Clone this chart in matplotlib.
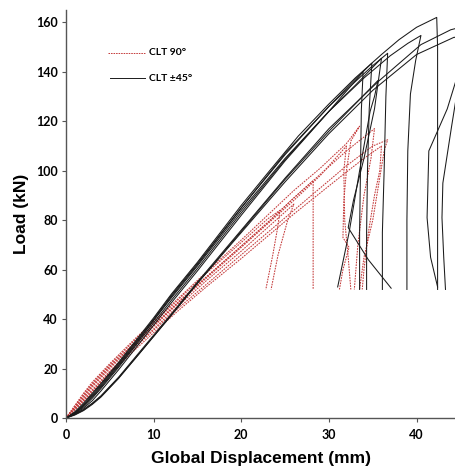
import matplotlib
matplotlib.use("Agg")
import matplotlib.pyplot as plt

# CLT +-45 (solid black) curves
b1_x = [0, 1, 2, 3, 4, 6, 8, 10, 12, 15, 20, 23, 26.5, 30, 33, 36, 38, 40, 42.3, 42.4, 42.4]
b1_y = [0, 2.5, 6, 10, 14, 22.5, 31.5, 40.5, 50, 63, 86, 99, 114, 127, 137.5, 147, 153, 158, 162, 150, 52]
b2_x = [0, 1, 2, 3, 4, 6, 8, 10, 12, 15, 20, 25, 30, 35.6, 40.5, 43.9, 45, 46, 45.5, 43.5, 41.4, 41.2, 41.6, 42.4]
b2_y = [0, 1.5, 3.5, 6, 9, 16.5, 25, 33.5, 42, 55, 76, 97, 117, 136, 151, 157, 158, 155, 148, 125, 108, 81, 65, 53]
b3_x = [0, 1, 2, 3, 4, 6, 8, 10, 12, 15, 20, 25, 30, 34, 37, 39, 40.5, 39.9, 39.3, 39, 38.9, 38.9]
b3_y = [0, 2, 5, 9, 13, 21.5, 30.5, 39.5, 48.5, 61.5, 84, 105, 124, 137.5, 146.5, 151.5, 154.7, 144.6, 131, 108, 80, 52]
b4_x = [0, 1, 2, 3, 4, 6, 8, 10, 12, 15, 20, 25, 30, 33, 35, 36.7, 36.5, 36.3, 36.1, 36.1]
b4_y = [0, 2.2, 5.5, 9.5, 13.5, 22, 31, 40, 49.5, 62.5, 85, 107, 126, 136, 142.5, 147.5, 130, 100, 75, 52]
b5_x = [0, 1, 2, 3, 4, 6, 8, 10, 12, 15, 20, 25, 30, 33, 36, 35.2, 34, 32.8, 32.2, 34.5, 37.1]
b5_y = [0, 1.8, 4.5, 8, 12, 20.5, 29.5, 38.5, 47.5, 60.5, 83, 104.5, 124, 134.5, 145.5, 125, 105, 88, 77, 64, 52.5]
b6_x = [0, 1, 2, 3, 4, 6, 8, 10, 12, 15, 20, 25, 30, 33, 35.6, 35.2, 34.7, 33.5, 32.3, 31]
b6_y = [0, 1.2, 3, 5.5, 8.5, 16, 24.5, 33, 41.5, 54.5, 75.5, 96.5, 116, 127, 136.5, 130, 124, 100, 75, 53]
b7_x = [0, 1, 2, 3, 4, 6, 8, 10, 12, 15, 20, 25, 30, 33, 34.9, 34.6, 34.4, 34.3, 34.3]
b7_y = [0, 2, 5, 8.5, 12.5, 21, 30, 39.5, 49, 62, 85, 106.5, 126, 137, 143.5, 125, 100, 75, 52]
b8_x = [0, 1, 2, 3, 4, 6, 8, 10, 12, 15, 20, 25, 30, 33.9, 33.7, 33.6, 33.5, 33.5]
b8_y = [0, 1.6, 4, 7, 11, 19.5, 28.5, 37.5, 46.5, 59.5, 82, 104, 124, 140, 124.5, 100, 75, 52]
b9_x = [0, 1, 2, 3, 4, 6, 8, 10, 12, 15, 20, 25, 30, 35, 40, 44.3, 45.5, 45, 44, 43, 42.9, 43.1, 43.3]
b9_y = [0, 1.4, 3.2, 5.8, 8.8, 16.2, 24.5, 33, 41.5, 54.5, 75, 95.5, 115, 132.5, 147, 154, 152, 140, 118, 95, 81, 65, 52]

# CLT 90 (red dotted) curves
r1_x = [0, 2, 3, 5, 8, 10, 13, 16, 20, 23, 24.4, 24.2, 23.6, 22.8]
r1_y = [0, 9.5, 14, 21.5, 32, 38.5, 48.5, 58.5, 71, 80.5, 84, 78, 66, 52]
r2_x = [0, 2, 3, 5, 8, 10, 13, 16, 20, 23, 26, 25.3, 24.2, 23.4]
r2_y = [0, 7.5, 11.5, 19, 29.5, 36, 46, 55.5, 67.5, 77, 86.5, 80, 66, 52]
r3_x = [0, 2, 3, 5, 8, 10, 13, 16, 20, 23, 26, 28.2, 28.2]
r3_y = [0, 8.5, 13, 20.5, 31, 37.5, 47.5, 57, 69.5, 79, 89, 96, 52]
r4_x = [0, 2, 3, 5, 8, 10, 13, 16, 20, 23, 26, 29, 32, 33.5, 32.5, 32, 31.7, 31.6, 32.3, 31.6, 31.2]
r4_y = [0, 10, 14.5, 22, 32.5, 39, 49, 59, 72, 82, 92, 101, 111, 118, 112, 100, 88, 73, 69, 60, 52]
r5_x = [0, 2, 3, 5, 8, 10, 13, 16, 20, 23, 26, 29, 32, 35.2, 34.8, 34, 33.3, 32.9]
r5_y = [0, 9, 13.5, 21, 31, 37.5, 47.5, 57, 69.5, 79, 89, 98.5, 108, 117, 105, 90, 70, 52]
r6_x = [0, 2, 3, 5, 8, 10, 13, 16, 20, 23, 26, 29, 32, 35, 36.7, 36.3, 35.7, 35, 34, 33.5]
r6_y = [0, 7, 11, 18.5, 29, 35.5, 45, 54, 66, 75, 84, 93, 102, 110, 112.5, 108, 95, 80, 65, 52]
r7_x = [0, 2, 3, 5, 8, 10, 13, 16, 20, 23, 26, 29, 32, 31.7, 31.8, 32.2, 32.5]
r7_y = [0, 8, 12.5, 20, 30.5, 37, 47, 56.5, 69, 78.5, 88, 98, 110, 100, 80, 65, 52]
r8_x = [0, 2, 3, 5, 8, 10, 13, 16, 20, 23, 26, 29, 32, 34, 36, 35.8, 35.2, 34.5, 34, 33.8]
r8_y = [0, 6.5, 10.5, 18, 28, 34.5, 44, 53, 64.5, 73.5, 82.5, 91, 99.5, 105, 110, 100, 90, 75, 60, 52]

black_curves = [(b1_x, b1_y), (b2_x, b2_y), (b3_x, b3_y), (b4_x, b4_y), (b5_x, b5_y),
                (b6_x, b6_y), (b7_x, b7_y), (b8_x, b8_y), (b9_x, b9_y)]
red_curves = [(r1_x, r1_y), (r2_x, r2_y), (r3_x, r3_y), (r4_x, r4_y),
              (r5_x, r5_y), (r6_x, r6_y), (r7_x, r7_y), (r8_x, r8_y)]

x_ticks = [0, 10, 20, 30, 40]
y_ticks = [0, 20, 40, 60, 80, 100, 120, 140, 160]

red = '#c43a3a'
dotted = (0, (1.6, 1.0))

fig = plt.figure(figsize=(4.56, 4.69), dpi=100)
ax = fig.add_axes([0.1447, 0.1087, 0.8553, 0.870])

for x, y in red_curves:
    ax.plot(x, y, color=red, lw=0.75, ls=dotted)
for x, y in black_curves:
    ax.plot(x, y, color='#1a1a1a', lw=0.75)

ax.set_xlim(0, 44.5)
ax.set_ylim(0, 165)
ax.set_xticks(x_ticks)
ax.set_yticks(y_ticks)

for s in ['top', 'right']:
    ax.spines[s].set_visible(False)
for s in ['left', 'bottom']:
    ax.spines[s].set_color('#555555')
    ax.spines[s].set_linewidth(1.0)

ax.tick_params(direction='out', length=3, width=0.8, color='#555555', pad=3)
for lab in ax.get_xticklabels() + ax.get_yticklabels():
    lab.set_fontfamily('Lato')
    lab.set_fontweight('bold')
    lab.set_fontsize(9)
ax.tick_params(axis='x', pad=5)

ax.set_xlabel('Global Displacement (mm)', fontsize=12.5, fontweight='bold',
              family='Liberation Sans', labelpad=7)
ax.set_ylabel('Load (kN)', fontsize=12.5, fontweight='bold',
              family='Liberation Sans', labelpad=5)

# legend drawn by hand
ax.plot([0.108, 0.203], [0.895, 0.895], transform=ax.transAxes, color=red, lw=0.7, ls=dotted)
ax.plot([0.113, 0.203], [0.833, 0.833], transform=ax.transAxes, color='#1a1a1a', lw=0.7)
ax.text(0.212, 0.895, 'CLT 90°', transform=ax.transAxes, va='center', ha='left',
        fontsize=7.5, fontweight='bold', family='Lato')
ax.text(0.212, 0.833, 'CLT ±45°', transform=ax.transAxes, va='center', ha='left',
        fontsize=7.5, fontweight='bold', family='Lato')

fig.savefig('out.png', dpi=100)
